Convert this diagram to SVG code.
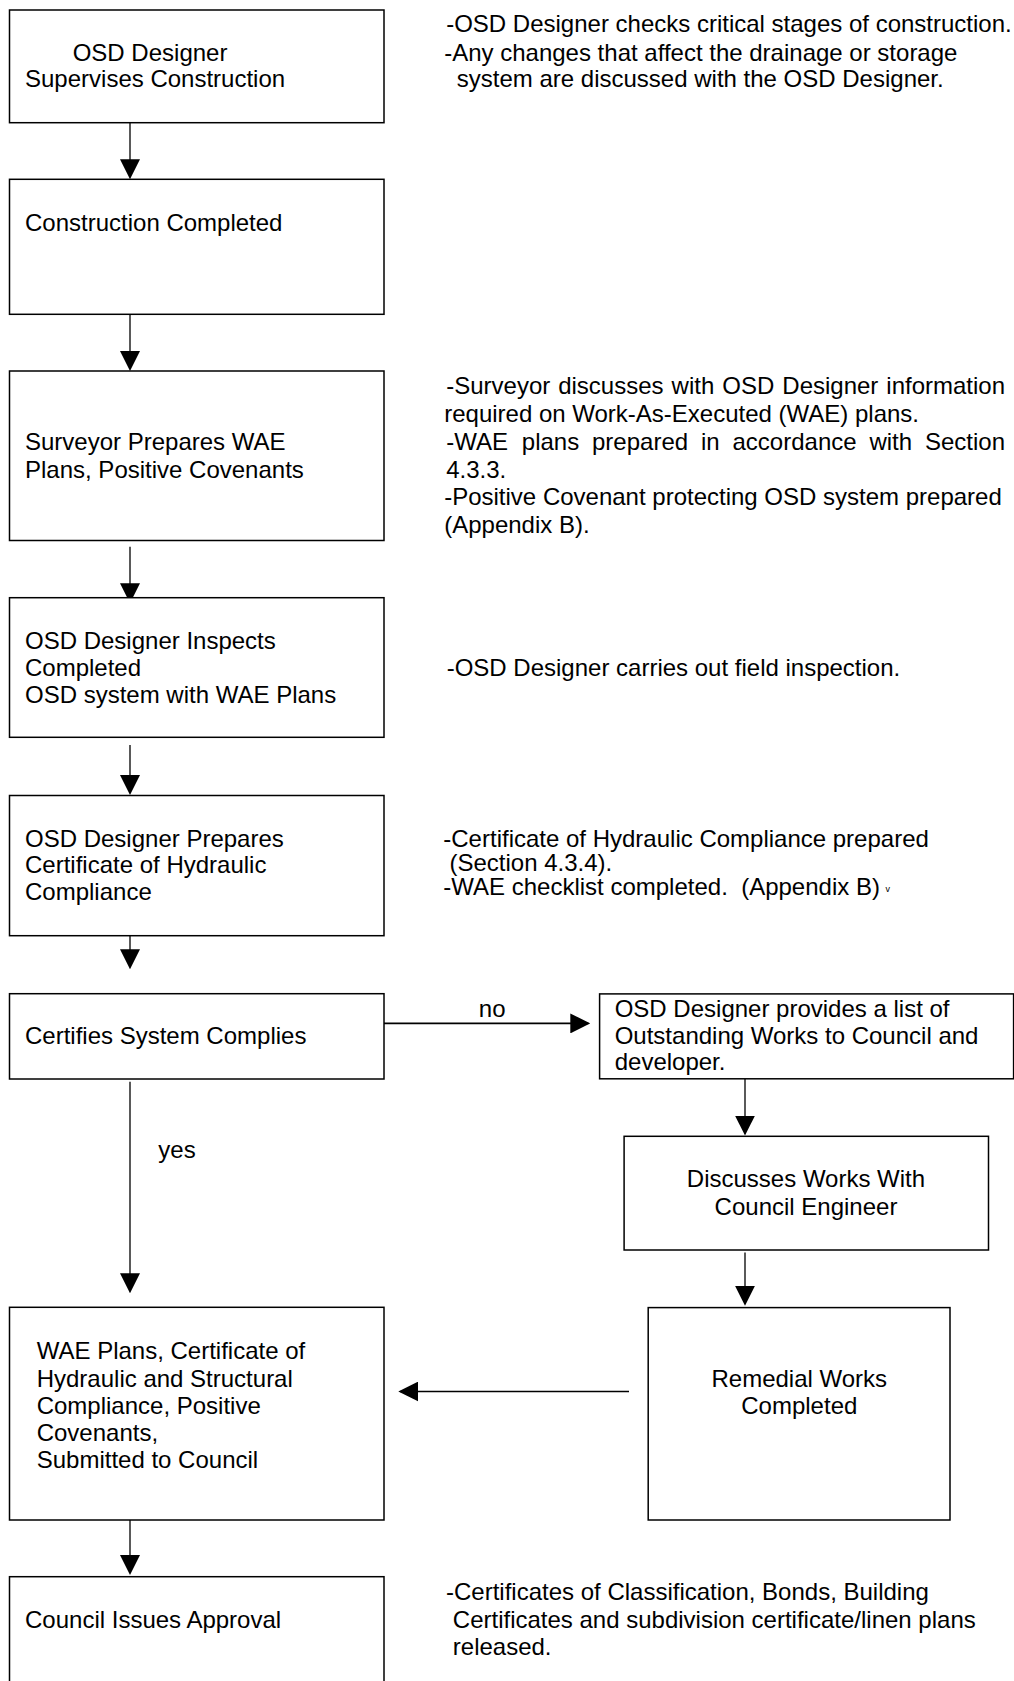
<svg xmlns="http://www.w3.org/2000/svg" width="1014" height="1681" viewBox="0 0 1014 1681">
<style>
  .box { fill: #fff; stroke: #000; stroke-width: 1.5; }
  .con { stroke: #000; stroke-width: 1.3; fill: none; }
  .thick { stroke-width: 1.7; }
  text { font-family: "Liberation Sans", Arial, sans-serif; font-size: 24px; fill: #000; }
  .mid { text-anchor: middle; }
  .sup { font-size: 9px; }
</style>
<defs>
  <marker id="ah" viewBox="0 0 20 20" markerWidth="20" markerHeight="20" refX="18" refY="10" orient="auto" markerUnits="userSpaceOnUse">
    <path d="M0,0 L20,10 L0,20 Z" fill="#000"/>
  </marker>
</defs>
<rect width="1014" height="1681" fill="#fff"/>

<g id="connectors">
  <line class="con" x1="130" y1="122.7" x2="130" y2="177.3" marker-end="url(#ah)"/>
  <line class="con" x1="130" y1="314.3" x2="130" y2="369" marker-end="url(#ah)"/>
  <line class="con" x1="130" y1="546.7" x2="130" y2="601.3" marker-end="url(#ah)"/>
  <line class="con" x1="130" y1="745" x2="130" y2="793" marker-end="url(#ah)"/>
  <line class="con" x1="130" y1="907" x2="130" y2="967.3" marker-end="url(#ah)"/>
  <line class="con" x1="130" y1="1081.7" x2="130" y2="1291.3" marker-end="url(#ah)"/>
  <line class="con" x1="130" y1="1518" x2="130" y2="1573" marker-end="url(#ah)"/>
  <line class="con thick" x1="378" y1="1023.4" x2="588.3" y2="1023.4" marker-end="url(#ah)"/>
  <line class="con" x1="745" y1="1078.8" x2="745" y2="1133.6" marker-end="url(#ah)"/>
  <line class="con" x1="745" y1="1252.5" x2="745" y2="1303.8" marker-end="url(#ah)"/>
  <line class="con thick" x1="629" y1="1391.5" x2="400.3" y2="1391.5" marker-end="url(#ah)"/>
  <text x="478.8" y="1017">no</text>
  <text x="158.3" y="1158.3">yes</text>
</g>

<g id="n1">
  <rect class="box" x="9.5" y="10" width="374.5" height="112.7"/>
  <text x="72.7" y="60.7">OSD Designer</text>
  <text x="25" y="87.3">Supervises Construction</text>
</g>
<g id="n2">
  <rect class="box" x="9.5" y="179.3" width="374.5" height="135"/>
  <text x="25" y="230.5">Construction Completed</text>
</g>
<g id="n3">
  <rect class="box" x="9.5" y="371" width="374.5" height="169.5"/>
  <text x="25" y="450">Surveyor Prepares WAE</text>
  <text x="25" y="477.5">Plans, Positive Covenants</text>
</g>
<g id="n4">
  <rect class="box" x="9.5" y="597.7" width="374.5" height="139.6"/>
  <text x="25" y="649">OSD Designer Inspects</text>
  <text x="25" y="676">Completed</text>
  <text x="25" y="703.3">OSD system with WAE Plans</text>
</g>
<g id="n5">
  <rect class="box" x="9.5" y="795.5" width="374.5" height="140.2"/>
  <text x="25" y="846.7">OSD Designer Prepares</text>
  <text x="25" y="873.3">Certificate of Hydraulic</text>
  <text x="25" y="900">Compliance</text>
</g>
<g id="n6">
  <rect class="box" x="9.5" y="993.7" width="374.5" height="85.3"/>
  <text x="25" y="1044">Certifies System Complies</text>
</g>
<g id="n7">
  <rect class="box" x="9.5" y="1307.3" width="374.5" height="212.7"/>
  <text x="36.7" y="1359">WAE Plans, Certificate of</text>
  <text x="36.7" y="1386.5">Hydraulic and Structural</text>
  <text x="36.7" y="1413.7">Compliance, Positive</text>
  <text x="36.7" y="1441">Covenants,</text>
  <text x="36.7" y="1468.3">Submitted to Council</text>
</g>
<g id="n8">
  <rect class="box" x="9.5" y="1576.7" width="374.5" height="110"/>
  <text x="25" y="1628.3">Council Issues Approval</text>
</g>
<g id="n9">
  <rect class="box" x="599.6" y="993.9" width="414" height="84.9"/>
  <text x="614.7" y="1017">OSD Designer provides a list of</text>
  <text x="614.7" y="1043.9">Outstanding Works to Council and</text>
  <text x="614.7" y="1069.8">developer.</text>
</g>
<g id="n10">
  <rect class="box" x="624.1" y="1136.3" width="364.4" height="113.7"/>
  <text class="mid" x="806" y="1186.7">Discusses Works With</text>
  <text class="mid" x="806" y="1214.7">Council Engineer</text>
</g>
<g id="n11">
  <rect class="box" x="648.2" y="1307.6" width="301.8" height="212.4"/>
  <text class="mid" x="799.3" y="1386.7">Remedial Works</text>
  <text class="mid" x="799.3" y="1413.7">Completed</text>
</g>

<g id="notes">
  <text x="446.2" y="32.1">-OSD Designer checks critical stages of construction.</text>
  <text x="444.2" y="60.7">-Any changes that affect the drainage or storage</text>
  <text x="456.8" y="87">system are discussed with the OSD Designer.</text>

  <text y="393.5"><tspan x="446.2">-Surveyor</tspan><tspan x="558.2">discusses</tspan><tspan x="671.6">with</tspan><tspan x="722.3">OSD</tspan><tspan x="782.3">Designer</tspan><tspan x="886.3">information</tspan></text>
  <text x="444.2" y="422.1">required on Work-As-Executed (WAE) plans.</text>
  <text y="450.3"><tspan x="446.2">-WAE</tspan><tspan x="521.8">plans</tspan><tspan x="592">prepared</tspan><tspan x="700.9">in</tspan><tspan x="732.5">accordance</tspan><tspan x="869.4">with</tspan><tspan x="925">Section</tspan></text>
  <text x="446.2" y="477.7">4.3.3.</text>
  <text x="444.2" y="505.1">-Positive Covenant protecting OSD system prepared</text>
  <text x="444.2" y="533.3">(Appendix B).</text>

  <text x="446.7" y="676">-OSD Designer carries out field inspection.</text>

  <text x="443.3" y="846.7">-Certificate of Hydraulic Compliance prepared</text>
  <text x="449.5" y="871">(Section 4.3.4).</text>
  <text x="443.3" y="895">-WAE checklist completed.&#160; (Appendix B)</text>
  <text class="sup" x="885.5" y="891.5">v</text>

  <text x="446" y="1600">-Certificates of Classification, Bonds, Building</text>
  <text x="452.8" y="1628.3">Certificates and subdivision certificate/linen plans</text>
  <text x="452.8" y="1655">released.</text>
</g>
</svg>
